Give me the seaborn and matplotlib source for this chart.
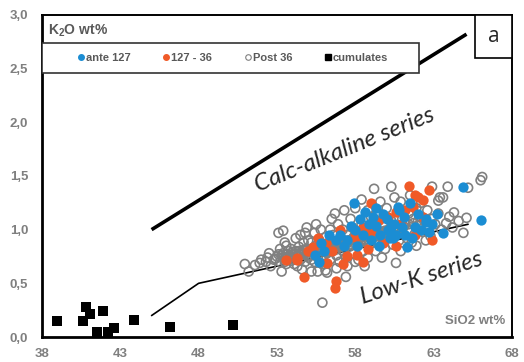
import matplotlib
matplotlib.use("Agg")
import matplotlib.pyplot as plt
from matplotlib.lines import Line2D
from matplotlib.patches import Rectangle
from matplotlib.ticker import FuncFormatter
import seaborn as sns
import pandas as pd

# --- data -----------------------------------------------------------------
ante_sio2 = [55.4, 55.8, 56.3, 57.7, 58.6, 59.3, 58.1, 60.7, 59.3, 60.1, 60.2, 61.2,
             61.3, 63.6, 64.9, 66.0, 57.0, 57.5, 58.0, 58.5, 59.0, 59.6, 60.5, 61.5,
             61.8, 62.2, 62.5, 62.0, 61.0, 60.0, 59.8, 58.9, 57.3, 56.8, 58.3, 59.5,
             60.6, 61.6, 62.9, 63.2, 56.0, 57.9, 60.4, 60.8, 62.5, 55.7, 59.1, 60.3,
             61.1, 62.7]
ante_k2o = [0.76, 0.88, 0.95, 1.03, 1.16, 1.20, 0.85, 1.21, 1.03, 1.00, 0.92, 0.95,
            0.84, 0.97, 1.40, 1.09, 0.95, 0.90, 1.00, 0.95, 0.90, 0.95, 1.05, 1.25,
            1.02, 1.00, 1.10, 1.15, 1.02, 1.10, 1.15, 1.05, 0.85, 0.90, 1.10, 0.85,
            0.95, 0.92, 1.05, 1.15, 0.80, 1.25, 0.92, 1.18, 1.07, 0.70, 1.12, 1.02,
            1.12, 0.98]

mid_sio2 = [54.3, 54.7, 56.8, 56.7, 56.2, 58.1, 60.6, 62.9, 55.3, 61.4, 60.1, 60.6,
            59.5, 58.0, 61.7, 62.7, 62.3, 61.8, 54.3, 56.1, 57.0, 58.5, 59.0, 57.5,
            58.8, 59.8, 61.8, 62.3, 55.6, 56.5, 57.2, 60.9, 61.2, 59.0, 58.5, 55.0,
            53.6, 62.0]
mid_k2o = [0.74, 0.56, 0.52, 0.46, 0.69, 0.76, 0.85, 0.90, 0.84, 1.41, 1.12, 1.16,
           1.09, 0.93, 1.21, 1.37, 1.28, 1.32, 0.72, 0.88, 1.00, 1.02, 0.98, 0.75,
           0.82, 0.88, 0.95, 1.12, 0.92, 0.80, 0.68, 1.05, 1.18, 1.25, 0.70, 0.80,
           0.72, 1.30]

post_sio2 = [50.95, 51.2, 51.6, 51.9, 52.0, 52.3, 52.4, 52.6, 52.8, 52.5,
             53.0, 53.1, 53.4, 53.3, 53.2, 53.4, 53.5, 53.6, 53.7, 53.8, 53.9, 53.6,
             53.9, 54.0, 54.1, 53.2, 53.5,
             54.2, 54.3, 54.4, 54.5, 54.6, 54.7, 54.8, 54.9, 54.8, 54.9, 55.0, 55.0,
             54.3, 54.6, 55.2, 55.2, 54.2, 54.5,
             55.3, 55.4, 55.5, 55.6, 55.6, 55.7, 55.8, 55.9, 55.9, 56.0, 56.1, 56.1,
             55.4, 55.8, 56.0, 55.2, 55.5,
             56.2, 56.3, 56.4, 56.5, 56.6, 56.7, 56.8, 56.9, 57.0, 56.5, 56.8, 57.0,
             56.4, 56.7, 56.2,
             57.2, 57.2, 57.3, 57.4, 57.4, 57.5, 57.6, 57.7, 57.8, 57.9, 58.0, 58.0,
             57.5, 57.8, 57.3,
             58.2, 58.3, 58.4, 58.5, 58.6, 58.7, 58.8, 58.9, 59.0, 58.4, 58.8, 58.2,
             59.0, 58.6,
             59.2, 59.3, 59.4, 59.5, 59.6, 59.7, 59.8, 59.9, 60.0, 59.5, 59.2, 60.0,
             59.7,
             60.2, 60.3, 60.4, 60.5, 60.6, 60.7, 60.8, 60.9, 61.0, 60.5, 60.9, 61.0,
             60.3,
             61.2, 61.3, 61.4, 61.5, 61.6, 61.7, 61.8, 61.9, 62.0, 61.5, 61.9,
             62.1, 62.3, 62.4, 62.6, 62.7, 62.8, 62.9, 62.9, 62.5, 62.2,
             63.1, 63.3, 63.4, 63.6, 63.3, 63.5, 63.9, 64.0, 64.3, 64.2, 64.6, 64.9,
             65.1, 65.2, 66.0, 66.1, 63.8,
             52.9, 53.3, 53.7, 54.0, 54.4, 54.7, 55.1, 55.4, 55.7, 56.0, 56.3, 56.6,
             56.9, 57.1, 57.6, 57.9, 58.1, 58.4, 58.7, 59.1, 59.4, 59.9, 60.2, 60.7,
             53.5, 53.8, 54.1, 54.6, 55.0, 55.3, 55.9, 56.2, 56.7, 57.3, 57.7, 58.3,
             53.1, 53.4, 53.6, 53.8, 54.0, 54.2, 54.4, 54.6, 54.8, 55.0, 55.2, 55.4,
             55.6, 55.8, 56.0, 56.2, 56.4, 56.6, 56.8, 57.0, 57.2, 57.4, 57.6, 57.8,
             58.0, 58.2, 58.4, 58.6, 58.8, 59.0, 59.3, 59.6, 59.9, 60.1, 60.4, 60.8,
             61.1, 61.4, 61.7, 62.0]
post_k2o = [0.68, 0.61, 0.67, 0.69, 0.72, 0.70, 0.74, 0.66, 0.72, 0.78,
            0.75, 0.97, 0.99, 0.61, 0.70, 0.78, 0.73, 0.68, 0.80, 0.74, 0.71, 0.85,
            0.82, 0.77, 0.68, 0.82, 0.88,
            0.80, 0.75, 0.84, 0.72, 0.78, 0.88, 0.97, 1.02, 0.70, 0.82, 0.76, 0.90,
            0.66, 0.63, 0.61, 0.72, 0.92, 0.95,
            0.80, 0.97, 0.85, 0.61, 0.74, 0.90, 0.80, 0.32, 0.68, 0.84, 0.62, 0.93,
            0.70, 1.00, 0.76, 0.88, 1.05,
            0.78, 0.86, 0.72, 0.82, 0.95, 0.88, 0.76, 1.05, 0.84, 1.10, 0.64, 0.70,
            1.00, 1.15, 0.60,
            1.00, 0.80, 0.90, 0.56, 0.74, 0.95, 0.84, 1.10, 0.78, 0.92, 1.20, 0.70,
            0.66, 1.02, 1.18,
            0.86, 0.95, 1.05, 0.80, 0.90, 1.00, 0.74, 0.86, 1.12, 1.28, 1.18, 0.72,
            0.95, 0.66,
            0.90, 0.80, 1.00, 0.86, 1.26, 0.95, 1.05, 0.82, 0.92, 1.15, 1.38, 1.20,
            0.74,
            0.98, 1.08, 0.86, 0.94, 0.69, 1.02, 0.90, 1.26, 1.10, 1.30, 0.80, 0.98,
            1.40,
            1.05, 0.92, 1.15, 1.00, 0.88, 1.10, 0.96, 1.20, 1.04, 1.32, 0.85,
            1.12, 0.98, 1.08, 1.18, 1.02, 0.94, 1.40, 1.10, 0.90, 1.25,
            1.05, 1.27, 1.30, 1.30, 1.15, 1.00, 1.40, 1.12, 1.16, 1.02, 1.08, 0.97,
            1.11, 1.39, 1.46, 1.49, 1.06,
            0.73, 0.76, 0.75, 0.79, 0.78, 0.81, 0.80, 0.83, 0.82, 0.86, 0.85, 0.87,
            0.88, 0.90, 0.89, 0.93, 0.92, 0.95, 0.94, 0.97, 0.96, 0.99, 1.01, 1.00,
            0.70, 0.73, 0.72, 0.74, 0.74, 0.77, 0.76, 0.79, 0.81, 0.83, 0.86, 0.88,
            0.77, 0.74, 0.77, 0.76, 0.79, 0.77, 0.80, 0.78, 0.81, 0.79, 0.82, 0.80,
            0.83, 0.82, 0.85, 0.83, 0.86, 0.84, 0.87, 0.86, 0.89, 0.87, 0.90, 0.88,
            0.91, 0.90, 0.93, 0.91, 0.94, 0.93, 0.95, 0.97, 0.98, 0.96, 1.00, 1.02,
            1.03, 1.05, 1.06, 1.08]

cum_sio2 = [38.96, 40.6, 40.8, 41.1, 41.5, 41.9, 42.2, 42.6, 43.9, 46.2, 50.2]
cum_k2o = [0.15, 0.15, 0.28, 0.21, 0.05, 0.24, 0.05, 0.08, 0.16, 0.09, 0.11]

# series boundaries
calc_alk_sio2 = [45.0, 65.1]
calc_alk_k2o = [1.0, 2.82]
low_k_sio2 = [45.0, 48.0, 65.2]
low_k_k2o = [0.2, 0.5, 1.05]

group_labels = ["ante 127", "127 - 36", "Post 36", "cumulates"]
x_ticks = [38, 43, 48, 53, 58, 63, 68]
y_ticks = [0.0, 0.5, 1.0, 1.5, 2.0, 2.5, 3.0]

# --- style ----------------------------------------------------------------
sns.set_theme(style="white")
plt.rcParams["font.family"] = ["Liberation Sans", "DejaVu Sans"]
plt.rcParams["mathtext.fontset"] = "custom"
plt.rcParams["mathtext.rm"] = "Liberation Sans:bold"
plt.rcParams["mathtext.default"] = "rm"

BLUE = "#1b8dd3"
ORANGE = "#f05a28"
GREY = "#808080"
LABEL_GREY = "#7f7f7f"

fig = plt.figure(figsize=(5.24, 3.62), dpi=100)
ax = fig.add_axes([0.080, 0.069, 0.897, 0.890])

post = pd.DataFrame({"SiO2": post_sio2, "K2O": post_k2o})
mid = pd.DataFrame({"SiO2": mid_sio2, "K2O": mid_k2o})
ante = pd.DataFrame({"SiO2": ante_sio2, "K2O": ante_k2o})
cum = pd.DataFrame({"SiO2": cum_sio2, "K2O": cum_k2o})

sns.scatterplot(data=post, x="SiO2", y="K2O", ax=ax, marker="o", s=42,
                facecolor="none", edgecolor=GREY, linewidth=1.2, legend=False, zorder=3)
sns.scatterplot(data=mid, x="SiO2", y="K2O", ax=ax, marker="o", s=55,
                color=ORANGE, edgecolor=ORANGE, linewidth=0, legend=False, zorder=4)
sns.scatterplot(data=ante, x="SiO2", y="K2O", ax=ax, marker="o", s=55,
                color=BLUE, edgecolor=BLUE, linewidth=0, legend=False, zorder=5)
sns.scatterplot(data=cum, x="SiO2", y="K2O", ax=ax, marker="s", s=50,
                color="black", edgecolor="black", linewidth=0, legend=False, zorder=5)

ax.plot(calc_alk_sio2, calc_alk_k2o, color="black", lw=2.6, solid_capstyle="butt", zorder=2)
ax.plot(low_k_sio2, low_k_k2o, color="black", lw=1.2, zorder=2)

ax.text(57.3, 1.74, "Calc-alkaline series", rotation=22, fontsize=17.5,
        fontstyle="italic", family=["Lato", "DejaVu Sans"], ha="center", va="center")
ax.text(62.2, 0.55, "Low-K series", rotation=18, fontsize=17.5,
        fontstyle="italic", family=["Lato", "DejaVu Sans"], ha="center", va="center")

# axes
ax.set_xlim(38, 68)
ax.set_ylim(0, 3.0)
ax.set_xticks(x_ticks)
ax.set_yticks(y_ticks)
ax.yaxis.set_major_formatter(FuncFormatter(lambda v, p: f"{v:.1f}".replace(".", ",")))
ax.set_xlabel("")
ax.set_ylabel("")
ax.tick_params(axis="both", length=0, labelsize=9.5, labelcolor=LABEL_GREY)
ax.tick_params(axis="x", pad=8)
ax.tick_params(axis="y", pad=10)
for lab in ax.get_xticklabels() + ax.get_yticklabels():
    lab.set_fontweight("bold")

for side, sp in ax.spines.items():
    sp.set_color("black")
    sp.set_linewidth(2.0 if side in ("left", "bottom") else 1.4)

ax.text(0.012, 0.975, "K$_2$O wt%", transform=ax.transAxes, fontsize=10,
        fontweight="bold", color="#595959", ha="left", va="top")
ax.text(0.985, 0.03, "SiO2 wt%", transform=ax.transAxes, fontsize=9.5,
        fontweight="bold", color=LABEL_GREY, ha="right", va="bottom")

# panel letter box
ax.add_patch(Rectangle((0.921, 0.866), 0.079, 0.134, transform=ax.transAxes,
                       facecolor="white", edgecolor="black", lw=1.2, zorder=6))
ax.text(0.9605, 0.933, "a", transform=ax.transAxes, fontsize=15,
        family=["Open Sans", "DejaVu Sans"], ha="center", va="center", zorder=7)

# legend frame and entries
ax.add_patch(Rectangle((0.0, 0.82), 0.802, 0.093, transform=ax.transAxes,
                       facecolor="white", edgecolor="#333333", lw=1.2, zorder=6))
handles = [
    Line2D([], [], ls="", marker="o", ms=4, mfc=BLUE, mec=BLUE),
    Line2D([], [], ls="", marker="o", ms=4, mfc=ORANGE, mec=ORANGE),
    Line2D([], [], ls="", marker="o", ms=4, mfc="none", mec=GREY, mew=0.8),
    Line2D([], [], ls="", marker="s", ms=4, mfc="black", mec="black"),
]
leg = ax.legend(handles, group_labels, loc="center", ncol=4,
                bbox_to_anchor=(0.405, 0.8665), borderaxespad=0, frameon=False,
                handletextpad=0.05, handlelength=0.8, columnspacing=2.8,
                prop={"size": 8, "weight": "bold"})
leg.set_zorder(7)
for t in leg.get_texts():
    t.set_color("#595959")

fig.savefig("out.png", dpi=100)
